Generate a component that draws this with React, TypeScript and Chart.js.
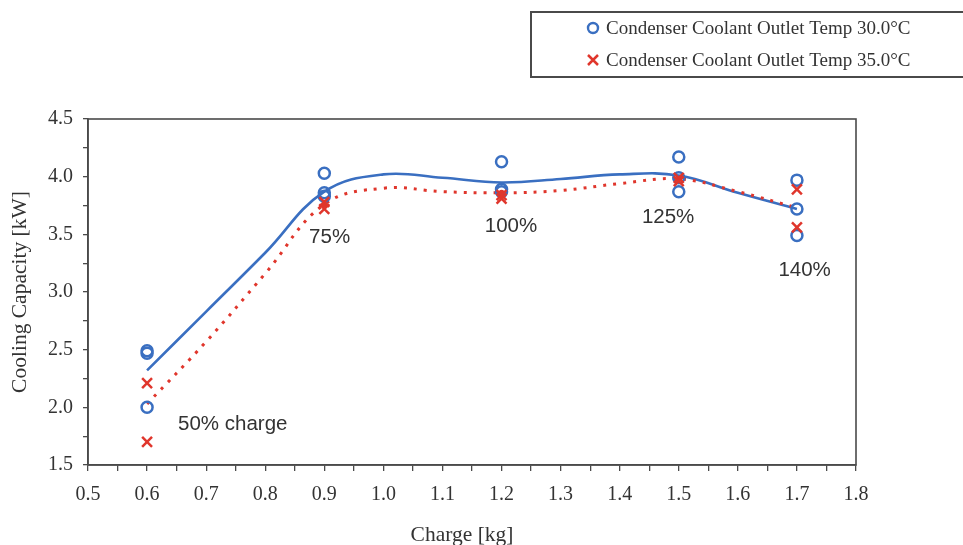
import { useEffect, useRef } from 'react';
import { Chart, registerables } from 'chart.js';

Chart.register(...registerables);

// Measured cooling capacity [kW] vs refrigerant charge [kg]
const charge30 = [0.6, 0.6, 0.6, 0.9, 0.9, 0.9, 1.2, 1.2, 1.2, 1.5, 1.5, 1.5, 1.7, 1.7, 1.7];
const capacity30 = [2.49, 2.47, 2.0, 4.03, 3.86, 3.83, 4.13, 3.89, 3.87, 4.17, 3.99, 3.87, 3.97, 3.72, 3.49];

const charge35 = [0.6, 0.6, 0.9, 0.9, 1.2, 1.2, 1.5, 1.5, 1.7, 1.7];
const capacity35 = [2.21, 1.7, 3.78, 3.72, 3.84, 3.81, 3.99, 3.96, 3.89, 3.56];

// Fitted trend curves
const fitCharge = [0.6, 0.7, 0.8, 0.9, 1.0, 1.1, 1.2, 1.3, 1.4, 1.5, 1.6, 1.7];
const fit30 = [2.32, 2.83, 3.34, 3.87, 4.02, 3.99, 3.95, 3.98, 4.02, 4.01, 3.86, 3.72];
const fit35 = [2.03, 2.57, 3.16, 3.76, 3.9, 3.87, 3.86, 3.88, 3.94, 3.98, 3.87, 3.73];
const fit35Nodes = [0.9, 1.2, 1.5];

// Charge-level labels
const chargeLabels = ['50% charge', '75%', '100%', '125%', '140%'];
const chargeLabelX = [0.745, 0.909, 1.216, 1.482, 1.713];
const chargeLabelY = [1.855, 3.47, 3.565, 3.65, 3.19];

const legendLabels = ['Condenser Coolant Outlet Temp 30.0\u00B0C', 'Condenser Coolant Outlet Temp 35.0\u00B0C'];

const BLUE = '#3a6fc1';
const RED = '#e0362c';
const INK = '#333333';
const FRAME = '#4a4a4a';
const SERIF = '"Liberation Serif", "Times New Roman", serif';
const SANS = '"Liberation Sans", Arial, sans-serif';

const near = (v: number, step: number) => Math.abs(v / step - Math.round(v / step)) < 1e-6;

const decorPlugin = {
  id: 'decor',
  afterDraw(chart: any) {
    const { ctx, chartArea, scales } = chart;
    const xs = scales.x;
    const ys = scales.y;
    ctx.save();

    // full frame around the plot area
    ctx.strokeStyle = FRAME;
    ctx.lineWidth = 1.6;
    ctx.strokeRect(chartArea.left, chartArea.top, chartArea.right - chartArea.left, chartArea.bottom - chartArea.top);

    // charge-level annotations
    ctx.fillStyle = INK;
    ctx.font = `20.5px ${SANS}`;
    ctx.textAlign = 'center';
    ctx.textBaseline = 'middle';
    chargeLabels.forEach((t, i) => {
      ctx.fillText(t, xs.getPixelForValue(chargeLabelX[i]), ys.getPixelForValue(chargeLabelY[i]));
    });

    // axis titles
    ctx.font = `21.5px ${SERIF}`;
    ctx.fillStyle = INK;
    ctx.fillText('Charge [kg]', (chartArea.left + chartArea.right) / 2 - 10, 535);
    ctx.save();
    ctx.translate(20, (chartArea.top + chartArea.bottom) / 2);
    ctx.rotate(-Math.PI / 2);
    ctx.fillText('Cooling Capacity [kW]', 0, 0);
    ctx.restore();

    // legend box
    ctx.strokeStyle = FRAME;
    ctx.lineWidth = 2;
    ctx.strokeRect(531, 12, 460, 65);
    ctx.font = `19px ${SERIF}`;
    ctx.textAlign = 'left';
    ctx.textBaseline = 'middle';
    const rows = [28, 60];
    // circle marker
    ctx.strokeStyle = BLUE;
    ctx.lineWidth = 2.4;
    ctx.beginPath();
    ctx.arc(593, rows[0], 5, 0, Math.PI * 2);
    ctx.stroke();
    // cross marker
    ctx.strokeStyle = RED;
    ctx.lineWidth = 2.5;
    ctx.beginPath();
    ctx.moveTo(588, rows[1] - 5);
    ctx.lineTo(598, rows[1] + 5);
    ctx.moveTo(598, rows[1] - 5);
    ctx.lineTo(588, rows[1] + 5);
    ctx.stroke();
    ctx.fillStyle = INK;
    legendLabels.forEach((t, i) => ctx.fillText(t, 606, rows[i] + 1));

    ctx.restore();
  },
};

export default function App() {
  const canvasRef = useRef<HTMLCanvasElement | null>(null);

  useEffect(() => {
    if (!canvasRef.current) return;
    const chart = new Chart(canvasRef.current, {
      type: 'scatter',
      data: {
        datasets: [
          {
            label: 'fit30',
            data: fitCharge.map((x, i) => ({ x, y: fit30[i] })),
            showLine: true,
            borderColor: BLUE,
            borderWidth: 2.6,
            pointRadius: 0,
            tension: 0.4,
            order: 3,
          },
          {
            label: 'fit35',
            data: fitCharge.map((x, i) => ({ x, y: fit35[i] })),
            showLine: true,
            borderColor: RED,
            backgroundColor: RED,
            borderWidth: 3,
            borderDash: [3, 7],
            pointRadius: (c: any) => (fit35Nodes.some((n) => Math.abs(n - fitCharge[c.dataIndex]) < 1e-6) ? 3 : 0),
            pointBorderWidth: 0,
            tension: 0.4,
            order: 2,
          },
          {
            label: legendLabels[0],
            data: charge30.map((x, i) => ({ x, y: capacity30[i] })),
            pointStyle: 'circle',
            pointRadius: 5.5,
            pointBorderWidth: 2.5,
            borderColor: BLUE,
            backgroundColor: 'rgba(0,0,0,0)',
            order: 1,
          },
          {
            label: legendLabels[1],
            data: charge35.map((x, i) => ({ x, y: capacity35[i] })),
            pointStyle: 'crossRot',
            pointRadius: 7,
            pointBorderWidth: 2.5,
            borderColor: RED,
            backgroundColor: RED,
            order: 0,
          },
        ],
      } as any,
      options: {
        animation: false,
        responsive: false,
        devicePixelRatio: 1,
        layout: { padding: { top: 119, right: 107, left: 0, bottom: 0 } },
        plugins: { legend: { display: false }, tooltip: { enabled: false } },
        scales: {
          x: {
            type: 'linear',
            min: 0.5,
            max: 1.8,
            afterFit: (s: any) => {
              s.height = 80;
            },
            border: { display: true, color: FRAME, width: 1.6 },
            grid: { display: true, drawOnChartArea: false, drawTicks: true, tickLength: 6, color: FRAME, lineWidth: 1.3 },
            ticks: {
              stepSize: 0.05,
              autoSkip: false,
              maxTicksLimit: 100,
              maxRotation: 0,
              padding: 12,
              color: INK,
              font: { family: SERIF, size: 20 },
              callback: (v: any) => (near(Number(v), 0.1) ? Number(v).toFixed(1) : ''),
            },
          },
          y: {
            type: 'linear',
            min: 1.5,
            max: 4.5,
            afterFit: (s: any) => {
              s.width = 88;
            },
            border: { display: true, color: FRAME, width: 1.6 },
            grid: { display: true, drawOnChartArea: false, drawTicks: true, tickLength: 5, color: FRAME, lineWidth: 1.3 },
            ticks: {
              stepSize: 0.25,
              autoSkip: false,
              maxTicksLimit: 100,
              padding: 10,
              color: INK,
              font: { family: SERIF, size: 20 },
              callback: (v: any) => (near(Number(v), 0.5) ? Number(v).toFixed(1) : ''),
            },
          },
        },
      } as any,
      plugins: [decorPlugin],
    });
    return () => chart.destroy();
  }, []);

  return (
    <div style={{ position: 'absolute', left: 0, top: 0, width: 963, height: 545, background: '#fff' }}>
      <canvas ref={canvasRef} width={963} height={545} style={{ display: 'block' }} />
    </div>
  );
}
